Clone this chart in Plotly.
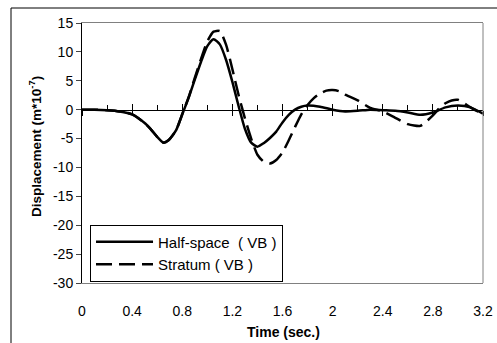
import plotly.graph_objects as go

# Half-space (VB) – solid
t_half = [0, 0.1, 0.2, 0.3, 0.4, 0.5, 0.55, 0.6, 0.65, 0.69, 0.75, 0.8, 0.85, 0.9, 0.95,
          1.0, 1.05, 1.1, 1.15, 1.2, 1.25, 1.3, 1.35, 1.4, 1.45, 1.5, 1.55, 1.6, 1.65,
          1.7, 1.75, 1.8, 1.9, 2.0, 2.1, 2.2, 2.3, 2.4, 2.5, 2.6, 2.7, 2.8, 2.9, 3.0,
          3.1, 3.2]
d_half = [0, 0, -0.1, -0.3, -0.8, -2.3, -3.4, -4.7, -5.7, -5.3, -3.6, -0.8, 2.0, 5.2, 8.3,
          11.0, 12.2, 11.3, 8.6, 4.8, 0.6, -3.3, -5.7, -6.4, -5.8, -4.9, -3.8, -2.2, -0.9,
          0.0, 0.5, 0.7, 0.5, 0.0, -0.3, -0.2, 0.0, -0.1, -0.2, -0.5, -0.9, -0.5, 0.4, 0.7,
          0.4, -0.7]

# Stratum (VB) – dashed
t_strat = [0, 0.1, 0.2, 0.3, 0.4, 0.5, 0.55, 0.6, 0.65, 0.69, 0.75, 0.8, 0.85, 0.9, 0.95,
           1.0, 1.05, 1.1, 1.15, 1.2, 1.25, 1.3, 1.35, 1.4, 1.45, 1.5, 1.55, 1.6, 1.65,
           1.7, 1.75, 1.8, 1.85, 1.9, 1.95, 2.0, 2.05, 2.1, 2.2, 2.3, 2.4, 2.5, 2.6, 2.7,
           2.8, 2.85, 2.9, 2.95, 3.0, 3.1, 3.2]
d_strat = [0, 0, -0.1, -0.3, -0.8, -2.3, -3.4, -4.7, -5.7, -5.3, -3.6, -0.8, 2.1, 5.5, 8.8,
           11.8, 13.5, 13.6, 11.2, 7.0, 2.5, -1.5, -5.0, -7.8, -9.0, -9.3, -8.7, -7.4, -5.3,
           -3.0, -0.8, 0.8, 2.0, 2.8, 3.3, 3.4, 3.2, 2.6, 1.6, 0.3, -0.3, -1.4, -2.5, -2.8,
           -1.0, 0.2, 1.1, 1.6, 1.7, 0.4, -0.8]

x_ticks = [0, 0.4, 0.8, 1.2, 1.6, 2, 2.4, 2.8, 3.2]
x_ticklabels = ["0", "0.4", "0.8", "1.2", "1.6", "2", "2.4", "2.8", "3.2"]
y_ticks = [15, 10, 5, 0, -5, -10, -15, -20, -25, -30]
y_ticklabels = ["15", "10", "5", "0", "-5", "-10", "-15", "-20", "-25", "-30"]

x_title = "<b>Time (sec.)</b>"
y_title = "<b>Displacement (m*10<sup>-7</sup>)</b>"

FONT = "Liberation Sans, Arial, sans-serif"

fig = go.Figure()
fig.add_trace(go.Scatter(x=t_half, y=d_half, mode="lines", name="Half-space  ( VB )",
                         line=dict(color="black", width=2.5, shape="spline", smoothing=0.6)))
fig.add_trace(go.Scatter(x=t_strat, y=d_strat, mode="lines", name="Stratum ( VB )",
                         line=dict(color="black", width=2.5, dash="16px,7px",
                                   shape="spline", smoothing=0.6)))
# empty helper traces so the axis drawn through y = 0 is rendered
fig.add_trace(go.Scatter(x=[], y=[], xaxis="x2", yaxis="y", showlegend=False,
                         hoverinfo="skip"))
fig.add_trace(go.Scatter(x=[], y=[], xaxis="x3", yaxis="y", showlegend=False,
                         hoverinfo="skip"))

fig.update_layout(
    width=497, height=343,
    margin=dict(l=82, r=14, t=23, b=60),
    paper_bgcolor="white", plot_bgcolor="white",
    font=dict(family=FONT, size=14, color="black"),
    showlegend=True,
    legend=dict(x=0.02, y=0.225, xanchor="left", yanchor="top",
                bgcolor="white", bordercolor="black", borderwidth=1,
                font=dict(family=FONT, size=15, color="black"),
                itemwidth=57, tracegroupgap=0),
    xaxis=dict(range=[0, 3.2], tickvals=x_ticks, ticktext=x_ticklabels,
               showgrid=False, zeroline=False, showline=True, linecolor="#808080",
               linewidth=1, mirror=True, ticks="", ticklabelstandoff=15,
               tickfont=dict(size=14), automargin=False),
    xaxis2=dict(range=[0, 3.2], overlaying="x", anchor="free", position=30 / 45,
                showticklabels=False, showgrid=False, zeroline=False, automargin=False,
                showline=True, linecolor="black", linewidth=1,
                tickvals=x_ticks, ticks="inside", ticklen=6, tickcolor="black",
                minor=dict(dtick=0.2, tick0=0, ticks="inside", ticklen=5, tickcolor="black")),
    xaxis3=dict(range=[0, 3.2], overlaying="x", anchor="free", position=30 / 45,
                showticklabels=False, showgrid=False, zeroline=False, showline=False,
                automargin=False,
                tickvals=x_ticks, ticks="outside", ticklen=5, tickcolor="black"),
    yaxis=dict(range=[-30, 15], tickvals=y_ticks, ticktext=y_ticklabels,
               showgrid=False, zeroline=False, automargin=False,
               showline=True, linecolor="black", linewidth=1, ticks="outside",
               ticklen=5, tickfont=dict(size=14)),
    annotations=[
        dict(text=x_title, xref="paper", yref="paper", x=(283 - 82) / 401,
             y=(283 - 332) / 260, xanchor="center", yanchor="middle", showarrow=False,
             font=dict(size=14)),
        dict(text=y_title, xref="paper", yref="paper", x=(35 - 82) / 401,
             y=(283 - 147) / 260, xanchor="center", yanchor="middle", showarrow=False,
             textangle=-90, font=dict(size=13.5)),
    ],
    shapes=[
        dict(type="line", xref="paper", yref="paper", x0=1, x1=1, y0=0, y1=1,
             line=dict(color="#808080", width=1)),
        dict(type="line", xref="paper", yref="paper", x0=(11 - 82) / 401, x1=1.05,
             y0=(283 - 8) / 260, y1=(283 - 8) / 260, line=dict(color="black", width=1)),
        dict(type="line", xref="paper", yref="paper", x0=(11 - 82) / 401, x1=(11 - 82) / 401,
             y0=(283 - 8) / 260, y1=-0.3, line=dict(color="black", width=1)),
    ],
)

fig.write_html("out.html")
